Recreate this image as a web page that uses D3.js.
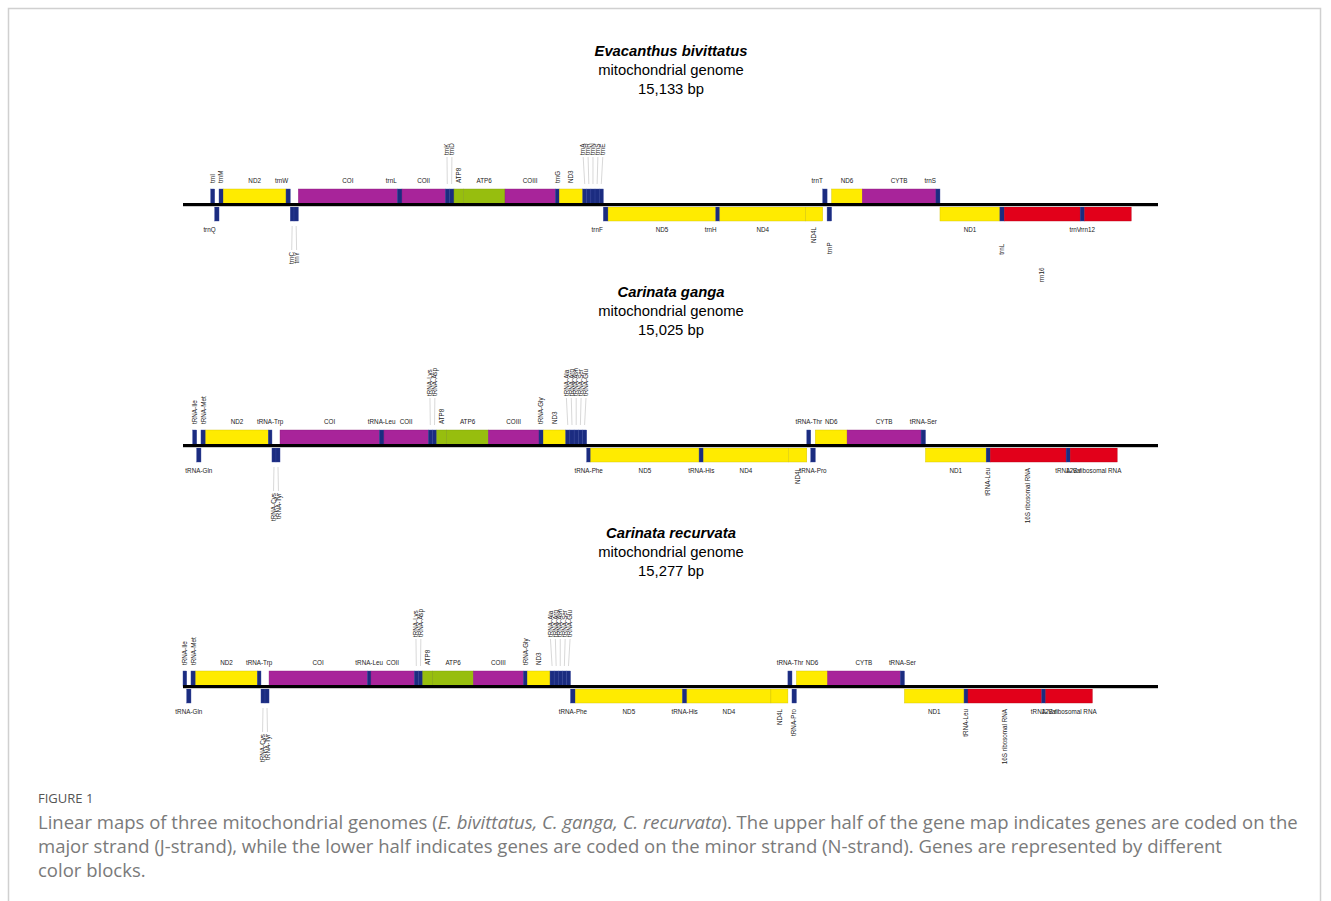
<!DOCTYPE html>
<html>
<head>
<meta charset="utf-8">
<script src="https://cdn.jsdelivr.net/npm/d3@7/dist/d3.min.js"></script>
<style>
  body { margin: 0; background: #fff; }
  svg { display: block; }
</style>
</head>
<body>
<svg id="chart" width="1331" height="901"></svg>
<script>
// gene order is the same in all three genomes
const geneNames = ['tRNA-Ile', 'tRNA-Gln', 'tRNA-Met', 'ND2', 'tRNA-Trp', 'tRNA-Cys', 'tRNA-Tyr',
    'COI', 'tRNA-Leu', 'COII', 'tRNA-Lys', 'tRNA-Asp', 'ATP8', 'ATP6', 'COIII', 'tRNA-Gly', 'ND3',
    'tRNA-Ala', 'tRNA-Arg', 'tRNA-Asn', 'tRNA-Ser', 'tRNA-Glu', 'tRNA-Phe', 'ND5', 'tRNA-His', 'ND4',
    'ND4L', 'tRNA-Thr', 'tRNA-Pro', 'ND6', 'CYTB', 'tRNA-Ser', 'ND1', 'tRNA-Leu',
    '16S ribosomal RNA', 'tRNA-Val', '12S ribosomal RNA'];
// E. bivittatus uses short names
const shortNames = ['trnI', 'trnQ', 'trnM', 'ND2', 'trnW', 'trnC', 'trnY', 'COI', 'trnL', 'COII',
    'trnK', 'trnD', 'ATP8', 'ATP6', 'COIII', 'trnG', 'ND3', 'trnA', 'trnR', 'trnN', 'trnS', 'trnE',
    'trnF', 'ND5', 'trnH', 'ND4', 'ND4L', 'trnT', 'trnP', 'ND6', 'CYTB', 'trnS', 'ND1', 'trnL',
    'rrn16', 'trnV', 'rrn12'];
const strands = ['J', 'N', 'J', 'J', 'J', 'N', 'N', 'J', 'J', 'J', 'J', 'J', 'J', 'J', 'J', 'J', 'J',
    'J', 'J', 'J', 'J', 'J', 'N', 'N', 'N', 'N', 'N', 'J', 'N', 'J', 'J', 'J', 'N', 'N', 'N', 'N', 'N'];
const geneTypes = ['trna', 'trna', 'trna', 'nd', 'trna', 'trna', 'trna', 'cox', 'trna', 'cox',
    'trna', 'trna', 'atp', 'atp', 'cox', 'trna', 'nd', 'trna', 'trna', 'trna', 'trna', 'trna',
    'trna', 'nd', 'trna', 'nd', 'nd', 'trna', 'trna', 'nd', 'cox', 'trna', 'nd', 'trna',
    'rrna', 'trna', 'rrna'];
// h = horizontal, v = vertical, lift = vertical with leader line
const labelModes = ['v', 'h', 'v', 'h', 'h', 'lift', 'lift', 'h', 'h', 'h', 'lift', 'lift', 'v', 'h',
    'h', 'v', 'v', 'lift', 'lift', 'lift', 'lift', 'lift', 'h', 'h', 'h', 'h', 'v', 'h', 'v', 'h',
    'h', 'h', 'h', 'v', 'v', 'h', 'h'];
const labelModeOverrides = [{}, {28: 'h'}, {}];

const speciesNames = ['Evacanthus bivittatus', 'Carinata ganga', 'Carinata recurvata'];
const genomeLengths = [15133, 15025, 15277];

// gene boundaries in bp (gene i runs from b[i] to b[i+1])
const bivittatusBounds = [430, 492, 559, 625, 1599, 1665, 1723, 1790, 3326, 3399, 4071, 4133,
    4206, 4351, 4998, 5779, 5841, 6204, 6267, 6331, 6395, 6460, 6524, 6598, 8270, 8332, 9665,
    9929, 9997, 10067, 10543, 11686, 11749, 12679, 12747, 13925, 13994, 14717];
const gangaBounds = [149, 211, 277, 350, 1314, 1371, 1433, 1495, 3025, 3097, 3780, 3842, 3910,
    4064, 4705, 5486, 5552, 5897, 5962, 6027, 6092, 6156, 6221, 6283, 7953, 8021, 9328, 9613,
    9674, 9744, 10234, 11374, 11442, 12377, 12440, 13609, 13672, 14396];
const recurvataBounds = [0, 58, 125, 199, 1164, 1222, 1285, 1348, 2888, 2946, 3624, 3687, 3756,
    3913, 4549, 5332, 5395, 5751, 5815, 5879, 5943, 6008, 6072, 6147, 7825, 7896, 9212, 9478,
    9542, 9611, 10099, 11239, 11304, 12238, 12300, 13455, 13518, 14248];
const boundsList = [bivittatusBounds, gangaBounds, recurvataBounds];

const geneColors = {trna: '#1b2c80', nd: '#ffeb00', cox: '#a8249a', atp: '#97be0e', rrna: '#e2001a'};

const labelFont = 'Liberation Sans, Arial, sans-serif';
const labelSize = 6.3;

const svg = d3.select('#chart');

// frame
svg.append('rect')
    .attr('x', 8.5).attr('y', 8.5)
    .attr('width', 1312).attr('height', 920)
    .attr('fill', 'none')
    .attr('stroke', '#d0d0d0')
    .attr('stroke-width', 1.5);

const meas = svg.append('text')
    .attr('font-family', labelFont)
    .attr('font-size', labelSize)
    .attr('visibility', 'hidden');
function textW(s) {
    meas.text(s);
    return meas.node().getComputedTextLength();
}

const lineRange = [183, 1158];
const firstLineY = 205;
const rowStep = 241;
const liftGap = 4.9;

boundsList.forEach((bounds, gi) => {
    const lineY = firstLineY + gi * rowStep;
    const x = d3.scaleLinear().domain([0, genomeLengths[gi]]).range(lineRange);
    const g = svg.append('g');

    // titles
    const title = g.append('g')
        .attr('font-family', labelFont)
        .attr('font-size', 14.8)
        .attr('text-anchor', 'middle')
        .attr('fill', '#000');
    title.append('text').attr('x', 671).attr('y', lineY - 149)
        .attr('font-weight', 'bold').attr('font-style', 'italic')
        .text(speciesNames[gi]);
    title.append('text').attr('x', 671).attr('y', lineY - 130).text('mitochondrial genome');
    title.append('text').attr('x', 671).attr('y', lineY - 111)
        .text(d3.format(',')(genomeLengths[gi]) + ' bp');

    const genes = geneNames.map((name, i) => ({
        name: name,
        label: gi === 0 ? shortNames[i] : name,
        strand: strands[i],
        type: geneTypes[i],
        start: bounds[i],
        end: bounds[i + 1],
        mode: labelModeOverrides[gi][i] || labelModes[i]
    }));
    genes.forEach(d => {
        d.x0 = x(d.start);
        d.x1 = x(d.end);
        d.cx = (d.x0 + d.x1) / 2;
        d.longW = textW(d.name);
    });

    // gene blocks
    g.selectAll('rect.gene')
        .data(genes)
        .join('rect')
        .attr('class', 'gene')
        .attr('x', d => d.x0)
        .attr('width', d => d.x1 - d.x0)
        .attr('y', d => d.strand === 'J' ? lineY - 16 : lineY + 2)
        .attr('height', d => d.strand === 'J' ? 15.5 : 14)
        .attr('fill', d => geneColors[d.type])
        .attr('stroke', d => d.type === 'trna' ? '#34449a' : d3.color(geneColors[d.type]).darker(0.6))
        .attr('stroke-width', 0.4);

    // backbone
    g.append('line')
        .attr('x1', lineRange[0]).attr('x2', lineRange[1])
        .attr('y1', lineY + 1.4).attr('y2', lineY + 1.4)
        .attr('stroke', '#c4c4c4').attr('stroke-width', 1);
    g.append('line')
        .attr('x1', lineRange[0]).attr('x2', lineRange[1])
        .attr('y1', lineY - 0.5).attr('y2', lineY - 0.5)
        .attr('stroke', '#000').attr('stroke-width', 2.8);

    // spread crowded lifted labels
    const clusters = [];
    let cur = null;
    genes.forEach((d, i) => {
        if (d.mode !== 'lift') return;
        if (cur && cur.strand === d.strand && cur.last === i - 1) {
            cur.items.push(d);
            cur.last = i;
        } else {
            cur = {strand: d.strand, items: [d], last: i};
            clusters.push(cur);
        }
    });
    clusters.forEach(c => {
        const cs = c.items.map(d => d.cx);
        const pos = [];
        cs.forEach((v, k) => pos.push(k ? Math.max(v, pos[k - 1] + liftGap) : v));
        const shift = d3.mean(cs) - d3.mean(pos);
        c.items.forEach((d, k) => { d.lx = pos[k] + shift; });
    });

    const labels = g.append('g')
        .attr('font-family', labelFont)
        .attr('font-size', labelSize)
        .attr('fill', '#222');

    genes.forEach(d => {
        const up = d.strand === 'J';
        if (d.mode === 'h') {
            labels.append('text')
                .attr('x', d.cx - d.longW / 2)
                .attr('y', up ? lineY - 22 : lineY + 27)
                .text(d.label);
        } else if (d.mode === 'v') {
            const yy = up ? lineY - 22 : lineY + 22 + d.longW;
            labels.append('text')
                .attr('transform', `translate(${d.cx},${yy}) rotate(-90)`)
                .attr('dy', '0.35em')
                .text(d.label);
        } else {
            if (up) {
                labels.append('line')
                    .attr('x1', d.lx).attr('y1', lineY - 48)
                    .attr('x2', d.cx).attr('y2', lineY - 21)
                    .attr('stroke', '#b0b0b0').attr('stroke-width', 0.5);
                labels.append('text')
                    .attr('transform', `translate(${d.lx},${lineY - 50}) rotate(-90)`)
                    .attr('dy', '0.35em')
                    .text(d.label);
            } else {
                labels.append('line')
                    .attr('x1', d.cx).attr('y1', lineY + 21)
                    .attr('x2', d.lx).attr('y2', lineY + 45)
                    .attr('stroke', '#b0b0b0').attr('stroke-width', 0.5);
                labels.append('text')
                    .attr('transform', `translate(${d.lx},${lineY + 47}) rotate(-90)`)
                    .attr('dy', '0.35em')
                    .attr('text-anchor', 'end')
                    .text(d.label);
            }
        }
    });
});

// caption
const captionFont = 'Open Sans, Noto Sans, sans-serif';
svg.append('text')
    .attr('x', 38).attr('y', 803)
    .attr('font-family', captionFont)
    .attr('font-size', 13)
    .attr('fill', '#555')
    .text('FIGURE 1');

const cap = svg.append('g')
    .attr('font-family', captionFont)
    .attr('font-size', 18)
    .attr('fill', '#7a7a7a');
const l1 = cap.append('text').attr('x', 0).attr('y', 829);
l1.append('tspan').text('Linear maps of three mitochondrial genomes (');
l1.append('tspan').attr('font-style', 'italic').text('E. bivittatus, C. ganga, C. recurvata');
l1.append('tspan').text('). The upper half of the gene map indicates genes are coded on the');
cap.append('text').attr('x', 0).attr('y', 853)
    .text('major strand (J-strand), while the lower half indicates genes are coded on the minor strand (N-strand). Genes are represented by different');
cap.append('text').attr('x', 0).attr('y', 877).text('color blocks.');
const capW = l1.node().getComputedTextLength();
cap.attr('transform', `translate(38,0) scale(${1261 / capW},1)`);

meas.remove();
</script>
</body>
</html>
